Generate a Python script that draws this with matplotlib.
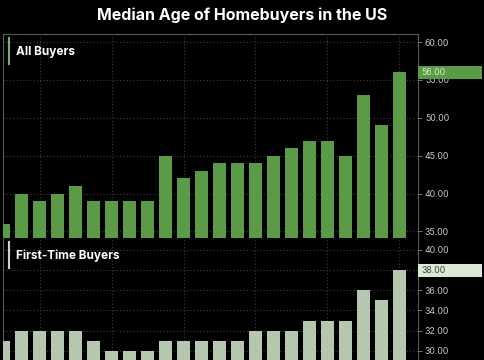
import matplotlib.pyplot as plt
from matplotlib.patches import Rectangle
from matplotlib.ticker import FuncFormatter
import matplotlib.transforms as mtransforms

years = list(range(2002, 2025))
all_buyers = [36, 40, 39, 40, 41, 39, 39, 39, 39, 45, 42, 43, 44, 44, 44,
              45, 46, 47, 47, 45, 53, 49, 56]
first_time = [31, 32, 32, 32, 32, 31, 30, 30, 30, 31, 31, 31, 31, 31, 32,
              32, 32, 33, 33, 33, 36, 35, 38]
grid_years = [2004, 2008, 2012, 2016, 2020, 2024]
top_ticks = [35, 40, 45, 50, 55, 60]
bottom_ticks = [30, 32, 34, 36, 38, 40]

plt.rcParams['font.family'] = ['Inter', 'DejaVu Sans']

W, H = 485, 360
fig = plt.figure(figsize=(W / 100, H / 100), dpi=100, facecolor='black')


def px_axes(x0, y0, x1, y1):
    # pixel box (top-left origin) -> figure fraction
    return fig.add_axes([x0 / W, 1 - y1 / H, (x1 - x0) / W, (y1 - y0) / H])


def style(ax, ticks, ylim, hidden_label=None):
    ax.set_facecolor('black')
    ax.set_xlim(years[0] - 0.03, years[-1] + 1.03)
    ax.set_ylim(*ylim)
    ax.set_yticks(ticks)
    ax.set_xticks(grid_years)
    # the last-value box sits on top of this label
    ax.yaxis.set_major_formatter(FuncFormatter(
        lambda v, p: '' if v == hidden_label else f'{v:.2f}'))
    ax.tick_params(axis='y', left=False, right=True, labelleft=False,
                   labelright=True, length=3, width=0.6, color='#888888',
                   labelcolor='#c8c8c8', labelsize=6.3, pad=2)
    ax.tick_params(axis='x', length=0, labelbottom=False)
    ax.set_axisbelow(True)
    ax.grid(True, color='#404040', linestyle=(0, (1, 2)), linewidth=0.8)
    for s in ax.spines.values():
        s.set_color('#5a5a5a')
        s.set_linewidth(0.8)


def last_box(ax, val, face, tcolor):
    trans = mtransforms.blended_transform_factory(ax.transAxes, ax.transData)
    lo, hi = ax.get_ylim()
    h = 13 / ax.bbox.height * (hi - lo)
    w = 64 / ax.bbox.width
    ax.add_patch(Rectangle((1.0, val - h / 2), w, h, transform=trans,
                           facecolor=face, edgecolor='none', clip_on=False,
                           zorder=5))
    ax.text(1.0 + 3 / ax.bbox.width, val, f'{val:.2f}', transform=trans,
            color=tcolor, fontsize=6.3, va='center', ha='left', zorder=6,
            clip_on=False)


def panel_label(ax, text, color):
    ax.plot([6 / ax.bbox.width] * 2, [1 - 4 / ax.bbox.height,
                                       1 - 30 / ax.bbox.height],
            transform=ax.transAxes, color=color, linewidth=1.5, clip_on=False)
    ax.text(13 / ax.bbox.width, 1 - 18 / ax.bbox.height, text,
            transform=ax.transAxes, color='white', fontsize=8.5,
            fontweight='bold', va='center', ha='left')


green = '#5b9a47'
sage = '#b5c7ae'

ax1 = px_axes(3, 34, 418, 237.5)
ax1.bar(years, all_buyers, width=0.75, color=green, zorder=3)
style(ax1, top_ticks, (34.2, 61.06))
ax1.spines['bottom'].set_visible(False)
last_box(ax1, all_buyers[-1], green, '#d9f2c9')
panel_label(ax1, 'All Buyers', '#7fae6c')

ax2 = px_axes(3, 237.5, 418, 380)
ax2.bar(years, first_time, width=0.75, color=sage, zorder=3)
style(ax2, bottom_ticks, (27.1, 41.24), hidden_label=first_time[-1])
ax2.spines['top'].set_visible(False)
last_box(ax2, first_time[-1], '#dbe8d3', '#3a4a36')
panel_label(ax2, 'First-Time Buyers', '#c9d6c3')

fig.text(0.5, 1 - 15 / H, 'Median Age of Homebuyers in the US',
         color='white', fontsize=11.5, fontweight='bold',
         ha='center', va='center')

fig.savefig('out.png', dpi=100, facecolor='black')
